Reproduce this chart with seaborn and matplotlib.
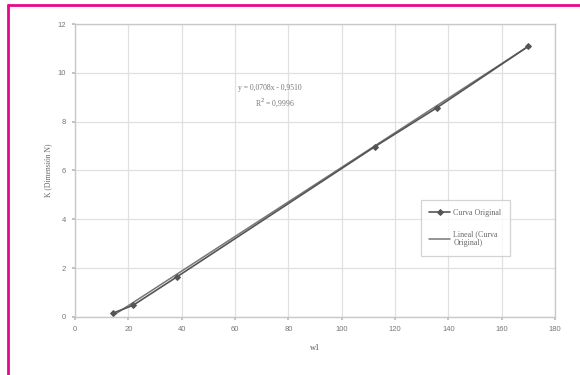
import matplotlib
matplotlib.use("Agg")
import matplotlib.pyplot as plt
from matplotlib.lines import Line2D
import seaborn as sns
import pandas as pd
import numpy as np

# Measured points of the original curve
w1_values = [14.3, 21.8, 38.3, 112.5, 135.7, 169.9]
k_values = [0.16, 0.48, 1.65, 6.98, 8.57, 11.08]

# Linear trend line coefficients (as printed in the equation label)
slope = 0.0708
intercept = -0.9510
r_squared = 0.9996

x_ticks = [0, 20, 40, 60, 80, 100, 120, 140, 160, 180]
y_ticks = [0, 2, 4, 6, 8, 10, 12]

series_label = "Curva Original"
trend_label = "Lineal (Curva\nOriginal)"
x_label = "w1"
y_label = "K (Dimensión N)"

sns.set_theme(style="whitegrid")
plt.rcParams["font.family"] = ["Liberation Sans", "DejaVu Sans"]

fig = plt.figure(figsize=(5.8, 3.75), dpi=100)
ax = fig.add_axes([0.1293, 0.1547, 0.8276, 0.7813])

curve = pd.DataFrame({"w1": w1_values, "K": k_values})
trend_x = np.array([min(w1_values), max(w1_values)])
trend = pd.DataFrame({"w1": trend_x, "K": slope * trend_x + intercept})

line_color = "#555555"
sns.lineplot(data=curve, x="w1", y="K", ax=ax, color=line_color, lw=1.2,
             marker="D", markersize=3.0, markeredgecolor=line_color,
             label=series_label, zorder=3)
sns.lineplot(data=trend, x="w1", y="K", ax=ax, color="#777777", lw=1.1,
             label=trend_label, zorder=2)

ax.set_xlim(0, 180)
ax.set_ylim(0, 12)
ax.set_xticks(x_ticks)
ax.set_yticks(y_ticks)
ax.tick_params(axis="both", labelsize=5.5, labelcolor="#777777",
               length=2.5, color="#bbbbbb", pad=4, bottom=True, left=True)
ax.grid(True, color="#e0e0e0", lw=0.9)
for s in ax.spines.values():
    s.set_color("#c8c8c8")
    s.set_linewidth(1.0)

serif = ["Liberation Serif", "DejaVu Serif"]
ax.set_xlabel(x_label, fontsize=6, color="#555555", family=serif, labelpad=8)
ax.set_ylabel(y_label, fontsize=5.5, color="#666666", family=serif, labelpad=4)

eq_text = f"y = {slope:.4f}x - {abs(intercept):.4f}".replace(".", ",")
r2_text = f"R$^2$ = {r_squared:.4f}".replace(".", ",")
ax.text(73, 9.36, eq_text, fontsize=5.5, color="#777777", family=serif,
        ha="center", va="center")
ax.text(75, 8.78, r2_text, fontsize=5.5, color="#777777", family=serif,
        ha="center", va="center")

leg = ax.legend(loc="lower left", bbox_to_anchor=(0.712, 0.195),
                frameon=True, fancybox=False,
                labelspacing=1.7, handlelength=2.6, borderpad=1.1,
                handletextpad=0.4, prop={"family": serif, "size": 5.7})
leg.get_frame().set_edgecolor("#c8c8c8")
leg.get_frame().set_linewidth(0.9)
for t in leg.get_texts():
    t.set_color("#666666")

# Magenta frame along the top and left edges
W, H = 580, 375
frame_color = "#e8088c"
fig.add_artist(Line2D([8 / W, 1.0], [1 - 5 / H, 1 - 5 / H],
                      transform=fig.transFigure, color=frame_color, lw=2))
fig.add_artist(Line2D([8 / W, 8 / W], [0.0, 1 - 5 / H],
                      transform=fig.transFigure, color=frame_color, lw=2))

fig.savefig("out.png", dpi=100)
